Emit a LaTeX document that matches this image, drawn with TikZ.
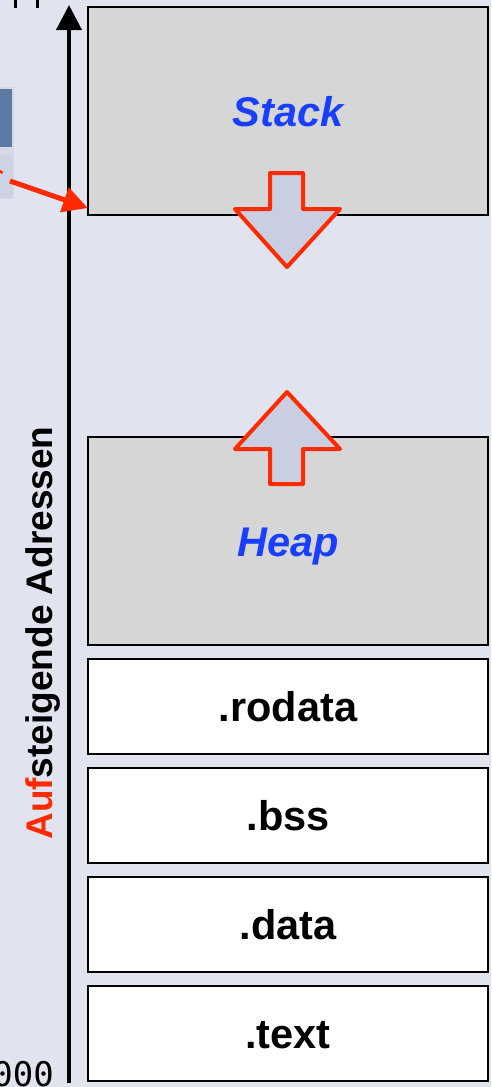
\documentclass[tikz,border=0pt]{standalone}
\usepackage{fontspec}
\setmainfont{Liberation Sans}
\newfontfamily\monof{DejaVu Sans Mono}
\usetikzlibrary{arrows.meta}
\definecolor{bgc}{RGB}{225,227,239}
\definecolor{boxgray}{RGB}{214,214,214}
\definecolor{arrfill}{RGB}{201,207,224}
\definecolor{redc}{RGB}{255,42,0}
\definecolor{bluec}{RGB}{24,62,255}
\definecolor{tabframe}{RGB}{212,216,231}
\definecolor{tabdark}{RGB}{91,122,166}
\definecolor{tablight}{RGB}{205,211,227}
\tikzset{
  seg/.style={draw=black, line width=2.2pt, minimum width=400pt, inner sep=0pt, text height=30pt, text depth=0pt, font=\fontsize{41.5}{44}\selectfont\bfseries},
  grayseg/.style={seg, fill=boxgray, minimum height=208pt, text=bluec, font=\fontsize{41.5}{44}\selectfont\bfseries\itshape},
  whiteseg/.style={seg, fill=white, minimum height=95pt},
  bigarrow/.style={draw=redc, fill=arrfill, line width=4pt, line join=round},
  redarrow/.style={draw=redc, line width=5pt, -{Triangle[length=25pt,width=25pt]}},
  axis/.style={draw=black, line width=4pt, -{Triangle[length=25pt,width=25pt]}}
}
\begin{document}
\begin{tikzpicture}[x=1pt,y=-1pt]
\useasboundingbox (0,0) rectangle (491,1087);
\fill[bgc] (0,0) rectangle (491,1087);
\clip (0,0) rectangle (491,1087);
% partial table at left
\fill[tabframe] (0,87) rectangle (14,199);
\fill[tabdark] (0,89) rectangle (11.5,147);
\fill[tablight] (0,155) rectangle (13,198);
% top marks
\draw[line width=3pt] (15.5,0) -- (15.5,8);
\draw[line width=3pt] (37.5,0) -- (37.5,8);
% segments
\node[grayseg] (stack) at (288,111) {Stack};
\node[grayseg] (heap) at (288,541) {Heap};
\node[whiteseg] (rodata) at (288,706.5) {.rodata};
\node[whiteseg] (bss) at (288,815.5) {.bss};
\node[whiteseg] (data) at (288,924.5) {.data};
\node[whiteseg] (text) at (288,1033.5) {.text};
% growth arrows
\draw[bigarrow] (270,173) -- (303,173) -- (303,209) -- (340,209) -- (287,267) -- (235,209) -- (270,209) -- cycle;
\draw[bigarrow] (287,392) -- (340,449) -- (303,449) -- (303,484) -- (270,484) -- (270,449) -- (235,449) -- cycle;
% axis
\coordinate (axb) at (69,1083);
\coordinate (axt) at (69,5);
\draw[axis] (axb) -- (axt);
\node[rotate=90, anchor=base, inner sep=0pt, font=\fontsize{37}{40}\selectfont\bfseries] (lab) at (52,633) {\textcolor{redc}{Auf}steigende Adressen};
% red pointer arrow
\draw[redc, line width=2.5pt] (0,171) -- (2.5,173);
\coordinate (ra) at (10,181);
\coordinate (rb) at (88,208);
\draw[redarrow] (ra) -- (rb);
% bottom address text
\node[anchor=base east, inner sep=0pt, font=\fontsize{34}{38}\monof] (addr) at (54,1086) {000};
\end{tikzpicture}
\end{document}
